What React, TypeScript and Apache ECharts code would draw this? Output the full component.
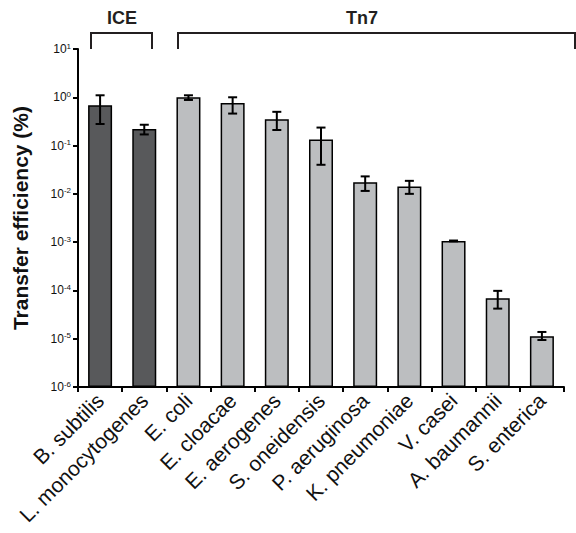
import React, { useEffect, useRef } from "react";
import * as echarts from "echarts";

const categories = [
  "B. subtilis",
  "L. monocytogenes",
  "E. coli",
  "E. cloacae",
  "E. aerogenes",
  "S. oneidensis",
  "P. aeruginosa",
  "K. pneumoniae",
  "V. casei",
  "A. baumannii",
  "S. enterica",
];
const groupOf = ["ICE", "ICE", "Tn7", "Tn7", "Tn7", "Tn7", "Tn7", "Tn7", "Tn7", "Tn7", "Tn7"];
const efficiency = [0.68, 0.22, 1.0, 0.76, 0.35, 0.133, 0.0174, 0.0142, 0.00106, 6.9e-5, 1.12e-5];
const errUpper = [1.1, 0.27, 1.1, 1.0, 0.5, 0.236, 0.023, 0.0186, 0.00108, 9.8e-5, 1.38e-5];
const errLower = [0.28, 0.17, 0.88, 0.46, 0.21, 0.04, 0.0115, 0.01, 0.00104, 4.2e-5, 9.4e-6];
const exponents = [-6, -5, -4, -3, -2, -1, 0, 1];

const MIN_EXP = exponents[0];
const toAxis = (v: number) => Math.log10(v) - MIN_EXP;

const FONT = "Liberation Sans, Arial, Helvetica, sans-serif";

export default function App() {
  const ref = useRef<HTMLDivElement>(null);
  useEffect(() => {
    document.body.style.margin = "0";
    if (!ref.current) return;
    const chart = echarts.init(ref.current, null, { renderer: "svg" });
    const option = {
      animation: false,
      backgroundColor: "#ffffff",
      textStyle: { fontFamily: FONT },
      grid: { left: 78, right: 12, top: 49, bottom: 146, containLabel: false },
      xAxis: {
        type: "category",
        data: categories,
        axisLine: { lineStyle: { color: "#000", width: 2 } },
        axisTick: { show: true, alignWithLabel: false, length: 5, lineStyle: { color: "#000", width: 2 } },
        axisLabel: {
          rotate: 45,
          interval: 0,
          margin: 10,
          fontSize: 21,
          color: "#111",
          fontFamily: FONT,
        },
      },
      yAxis: {
        type: "value",
        min: 0,
        max: exponents.length - 1,
        interval: 1,
        splitLine: { show: false },
        axisLine: { show: true, lineStyle: { color: "#000", width: 2 } },
        axisTick: { show: true, length: 5, lineStyle: { color: "#000", width: 2 } },
        axisLabel: {
          margin: 7,
          color: "#111",
          fontSize: 12,
          fontFamily: FONT,
          formatter: (v: number) => `{b|10}{s|${Math.round(v) + MIN_EXP}}`,
          rich: {
            b: { fontSize: 12, lineHeight: 14, fontFamily: FONT, color: "#111" },
            s: { fontSize: 8, verticalAlign: "top", lineHeight: 9, fontFamily: FONT, color: "#111" },
          },
        },
        name: "Transfer efficiency (%)",
        nameLocation: "middle",
        nameGap: 47,
        nameRotate: 90,
        nameTextStyle: { fontSize: 21, fontWeight: "bold", color: "#111", fontFamily: FONT },
      },
      series: [
        {
          type: "bar",
          barWidth: 24,
          data: efficiency.map((v, i) => ({
            value: toAxis(v),
            itemStyle: {
              color: groupOf[i] === "ICE" ? "#58595b" : "#bcbec0",
              borderColor: "#000",
              borderWidth: 1.5,
            },
          })),
          z: 2,
        },
        {
          type: "custom",
          z: 3,
          data: efficiency.map((_, i) => [i, toAxis(errLower[i]), toAxis(errUpper[i])]),
          renderItem: (params: any, api: any) => {
            const i = api.value(0);
            const lo = api.coord([i, api.value(1)]);
            const hi = api.coord([i, api.value(2)]);
            const hw = 4.5;
            const st = { stroke: "#000", lineWidth: 2 };
            return {
              type: "group",
              children: [
                { type: "line", shape: { x1: lo[0], y1: lo[1], x2: hi[0], y2: hi[1] }, style: st },
                { type: "line", shape: { x1: hi[0] - hw, y1: hi[1], x2: hi[0] + hw, y2: hi[1] }, style: st },
                { type: "line", shape: { x1: lo[0] - hw, y1: lo[1], x2: lo[0] + hw, y2: lo[1] }, style: st },
              ],
            };
          },
        },
      ],
      graphic: [
        {
          type: "polyline",
          shape: { points: [[91, 49], [91, 33], [152, 33], [152, 49]] },
          style: { stroke: "#231f20", lineWidth: 2, fill: "none" },
        },
        {
          type: "polyline",
          shape: { points: [[178, 49], [178, 33], [575, 33], [575, 49]] },
          style: { stroke: "#231f20", lineWidth: 2, fill: "none" },
        },
        {
          type: "text",
          x: 122,
          y: 18,
          style: { text: "ICE", fontSize: 18, fontWeight: "bold", fill: "#231f20", fontFamily: FONT, align: "center", verticalAlign: "middle" },
        },
        {
          type: "text",
          x: 362,
          y: 18,
          style: { text: "Tn7", fontSize: 18, fontWeight: "bold", fill: "#231f20", fontFamily: FONT, align: "center", verticalAlign: "middle" },
        },
      ],
    };
    chart.setOption(option as any);
    return () => chart.dispose();
  }, []);
  return <div ref={ref} style={{ width: 576, height: 533 }} />;
}
